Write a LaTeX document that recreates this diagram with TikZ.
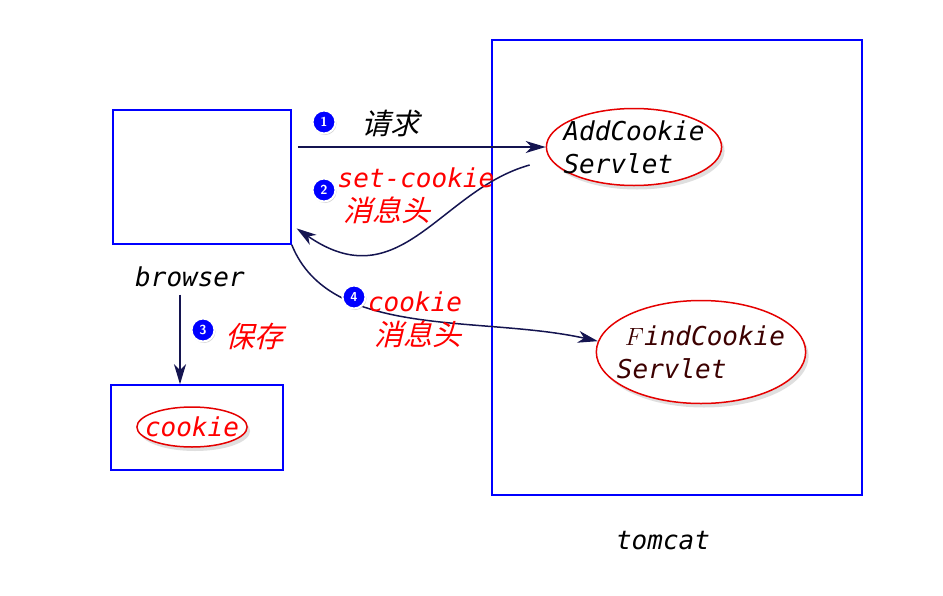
\documentclass[tikz,border=0pt]{standalone}
\usepackage{fontspec}
\setmonofont{DejaVu Sans Mono}
\newfontfamily\cjk[FakeSlant=0.25]{Noto Sans CJK SC}
\usetikzlibrary{shapes.geometric,shadows,arrows.meta}

\definecolor{navyc}{RGB}{20,20,80}
\definecolor{maroonc}{RGB}{60,0,0}

\tikzset{
  box/.style={draw=blue, line width=1.5pt},
  oval/.style={ellipse, draw=red!90!black, line width=1.5pt, fill=white, inner ysep=0pt,
    drop shadow={shadow xshift=3pt, shadow yshift=-4pt, fill=black!25}},
  ball/.style={circle, fill=blue, draw=white, line width=2pt, text=white, inner sep=0pt,
    minimum size=23pt, font=\sffamily\bfseries\fontsize{13}{13}\selectfont,
    drop shadow={shadow xshift=1pt, shadow yshift=-1.5pt, fill=black!35}},
  arr/.style={-{Stealth[length=20pt,width=12pt,inset=6pt]}, draw=navyc, line width=1.5pt},
  lbl/.style={font=\ttfamily\itshape\fontsize{26}{33}\selectfont},
  redlbl/.style={text=red, font=\ttfamily\itshape\fontsize{26}{30}\selectfont},
  cjklbl/.style={font=\cjk\fontsize{29}{30}\selectfont},
}

\begin{document}
\begin{tikzpicture}[x=1pt,y=-1pt]
\useasboundingbox (0,0) rectangle (943,595);

\node[box, minimum width=178pt, minimum height=134pt] (browser) at (202,177) {};
\node[lbl] (browserlbl) at (190,277) {browser};
\node[box, minimum width=172pt, minimum height=85pt] (cookiebox) at (197,427.5) {};
\node[oval, inner xsep=-8pt, minimum height=40pt, redlbl] (cookie) at (192,427) {cookie};

\node[box, minimum width=370pt, minimum height=455pt] (tomcat) at (677,267.5) {};
\node[lbl] (tomcatlbl) at (663,541) {tomcat};

\node[oval, inner xsep=-8.5pt, minimum height=77pt, lbl, align=left] (add) at (634,147)
  {AddCookie\\Servlet};
\node[oval, inner xsep=-10pt, minimum height=103pt, lbl, text=maroonc, align=left] (find) at (701,352)
  {\hspace{8pt}$F$indCookie\\Servlet};

\draw[arr, shorten <=6pt] (browser.east |- add.west) -- (add.west);
\node[ball] (n1) at (324,122) {1};
\node[cjklbl] (req) at (390,124) {请求};

\draw[arr, shorten >=6pt] ([shift={(-16pt,-18pt)}]add.west) .. controls (440,190) and (400,300) .. ([yshift=-48pt]browser.east);
\node[ball] (n2) at (324,190) {2};
\node[redlbl] (setck) at (416,178) {set-cookie};
\node[cjklbl, text=red] (hdr1) at (387,210) {消息头};

\draw[arr, shorten <=4pt] ([xshift=-10pt]browserlbl.south) -- ([xshift=-10pt]browserlbl.south |- cookiebox.north);
\node[ball] (n3) at (203,330) {3};
\node[cjklbl, text=red] (save) at (254,336) {保存};

\draw[arr] (browser.south east) .. controls (330,340) and (480,315) .. (find.174);
\node[ball] (n4) at (354,297) {4};
\node[redlbl] (ck) at (415,302) {cookie};
\node[cjklbl, text=red] (hdr2) at (418,334) {消息头};
\end{tikzpicture}
\end{document}
